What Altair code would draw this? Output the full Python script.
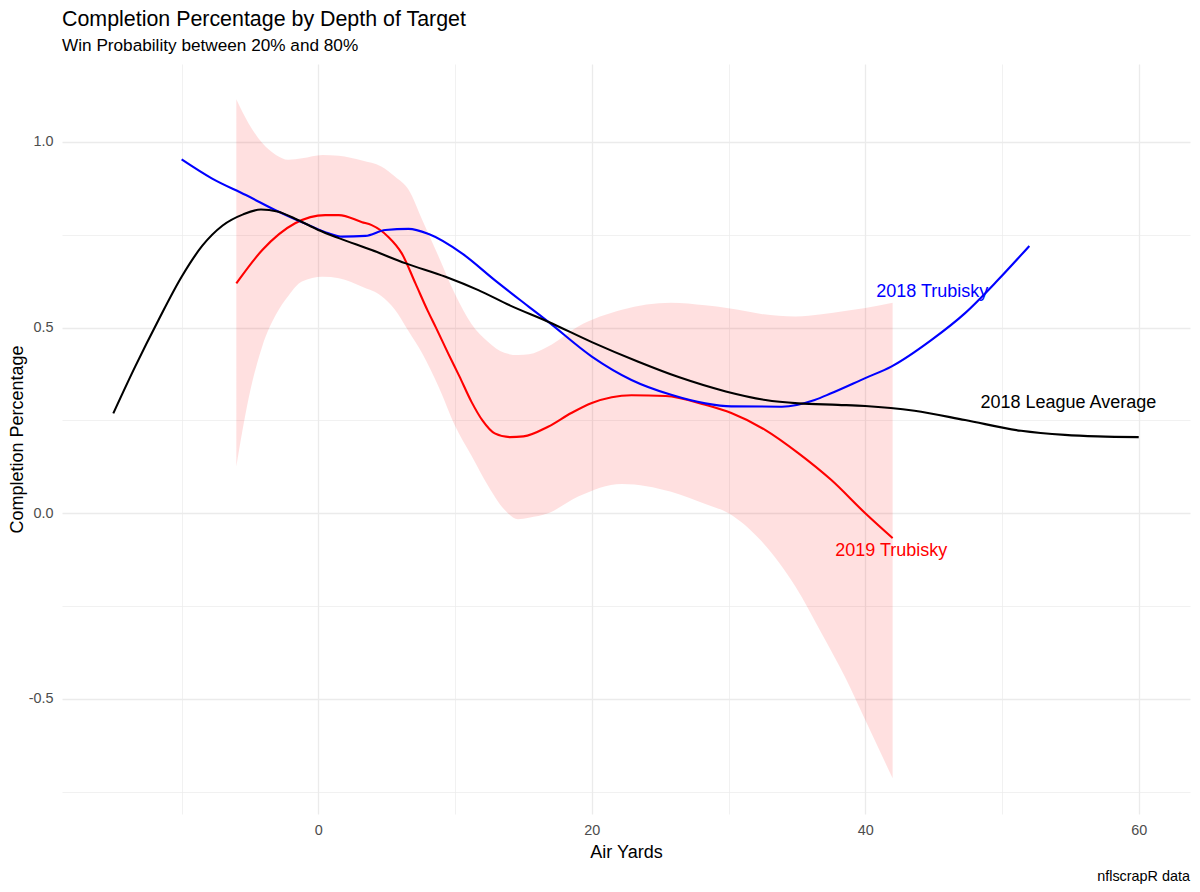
import altair as alt
import pandas as pd

FONT = "Liberation Sans"

# ---- 2018 League Average (black) ----
league_x = [-15, -13.4, -11.7, -10, -8.5, -7, -5.5, -4.2, -3, -1.5, 0, 1.5, 3.9, 6.4, 9.3,
            11.7, 14, 16.8, 20, 23.4, 26.4, 29.8, 32.7, 35.1, 38, 40, 43.6, 47.3, 51.4,
            54.6, 57, 60]
league_y = [0.269, 0.395, 0.52, 0.637, 0.72, 0.775, 0.805, 0.818, 0.813, 0.79, 0.763, 0.741,
            0.709, 0.673, 0.637, 0.601, 0.56, 0.516, 0.461, 0.408, 0.366, 0.328, 0.305,
            0.296, 0.292, 0.289, 0.276, 0.251, 0.222, 0.211, 0.207, 0.205]

# ---- 2018 Trubisky (blue) ----
t18_x = [-10, -7.8, -5.3, -2.9, -0.7, 0.75, 1.73, 3.44, 4.9, 6.6, 8.07, 10.5, 12.9, 15.4,
         16.8, 20, 22.9, 25.8, 28.3, 30.2, 33.9, 36.3, 37.5, 40, 41.9, 44.85, 47.3, 49.7, 52]
t18_y = [0.953, 0.902, 0.857, 0.812, 0.776, 0.754, 0.745, 0.747, 0.763, 0.766, 0.752, 0.70,
         0.628, 0.556, 0.516, 0.422, 0.359, 0.319, 0.296, 0.288, 0.287, 0.305, 0.323, 0.364,
         0.395, 0.467, 0.539, 0.628, 0.72]

# ---- 2019 Trubisky (red) ----
t19_x = [-6, -4.1, -1.7, 0.5, 1.5, 3.2, 3.9, 5.1, 6.1, 7.1, 8.0, 8.6, 9.5, 10.3, 11.2, 12.0,
         12.9, 14.0, 15.0, 16.8, 18.5, 20, 22.9, 25.4, 28.3, 30.2, 32.7, 35.1, 37.5, 40, 42]
t19_y = [0.619, 0.709, 0.781, 0.803, 0.803, 0.784, 0.776, 0.745, 0.70, 0.619, 0.545, 0.50,
         0.43, 0.37, 0.30, 0.25, 0.215, 0.205, 0.207, 0.233, 0.27, 0.297, 0.318, 0.316,
         0.292, 0.27, 0.224, 0.162, 0.09, 0.0, -0.067]

# ---- 2019 confidence band ----
band_x = [-6, -5.1, -4.1, -3.1, -2.2, -1.2, 0.3, 1.5, 3.2, 4.6, 5.6, 6.6, 7.6, 8.8, 10,
          11.2, 12.4, 13.6, 14.6, 15.4, 16.8, 19, 22.2, 25.8, 28.3, 30, 32.4, 34.9, 36.8,
          38.5, 40, 42]
band_hi = [1.115, 1.05, 0.997, 0.965, 0.952, 0.956, 0.965, 0.963, 0.95, 0.934, 0.907, 0.871,
           0.79, 0.691, 0.59, 0.51, 0.462, 0.432, 0.426, 0.428, 0.449, 0.503, 0.548, 0.567,
           0.56, 0.552, 0.537, 0.53, 0.536, 0.545, 0.553, 0.567]
band_lo = [0.126, 0.31, 0.45, 0.535, 0.585, 0.624, 0.637, 0.633, 0.61, 0.585, 0.548, 0.49,
           0.43, 0.34, 0.235, 0.155, 0.075, 0.01, -0.016, -0.012, 0.0, 0.045, 0.079, 0.058,
           0.025, 0.0, -0.075, -0.198, -0.323, -0.44, -0.557, -0.714]

# ---- labels ----
label_text = ["2018 Trubisky", "2018 League Average", "2019 Trubisky"]
label_x = [44.9, 54.85, 41.9]
label_y = [0.597, 0.296, -0.102]

series_names = ["2018 Trubisky", "2018 League Average", "2019 Trubisky"]
series_colors = ["#0000FF", "#000000", "#FF0000"]

x_ticks = [-10, 0, 10, 20, 30, 40, 50, 60]
y_ticks = [-0.75, -0.5, -0.25, 0.0, 0.25, 0.5, 0.75, 1.0]

lines = pd.concat([
    pd.DataFrame({"series": "2018 League Average", "x": league_x, "y": league_y}),
    pd.DataFrame({"series": "2018 Trubisky", "x": t18_x, "y": t18_y}),
    pd.DataFrame({"series": "2019 Trubisky", "x": t19_x, "y": t19_y}),
])
band = pd.DataFrame({"x": band_x, "lo": band_lo, "hi": band_hi})
labels = pd.DataFrame({"series": label_text, "x": label_x, "y": label_y})

W, H = 1128, 750

xscale = alt.Scale(domain=[-18.75, 63.75], nice=False, zero=False)
yscale = alt.Scale(domain=[-0.81, 1.21], nice=False, zero=False)
cscale = alt.Scale(domain=series_names, range=series_colors)

x_axis = alt.Axis(
    values=x_ticks, title="Air Yards",
    labelExpr="datum.value % 20 == 0 ? format(datum.value, 'd') : ''",
    domain=False, ticks=False, tickSize=0, labelPadding=9,
    labelFontSize=14.4, labelColor="#4D4D4D", labelFont=FONT,
    titleFontSize=18, titleFont=FONT, titleColor="#000000", titleFontWeight="normal",
    titleY=38, titleBaseline="middle",
    gridColor="#EBEBEB",
    gridWidth={"condition": {"test": "datum.value % 20 == 0", "value": 1.3}, "value": 0.7},
)
y_axis = alt.Axis(
    values=y_ticks, title="Completion Percentage",
    labelExpr="abs(datum.value*2 - round(datum.value*2)) < 0.001 ? replace(format(datum.value, '.1f'), '\u2212', '-') : ''",
    domain=False, ticks=False, tickSize=0, labelPadding=9,
    labelFontSize=14.4, labelColor="#4D4D4D", labelFont=FONT,
    titleFontSize=18, titleFont=FONT, titleColor="#000000", titleFontWeight="normal",
    titleX=-44.5, titleY=H / 2, titleBaseline="middle", titleAngle=270,
    gridColor="#EBEBEB",
    gridWidth={"condition": {"test": "abs(datum.value*2 - round(datum.value*2)) < 0.001", "value": 1.3}, "value": 0.7},
)

ribbon = alt.Chart(band).mark_area(color="#FF0000", opacity=0.12, interpolate="monotone").encode(
    x=alt.X("x:Q", scale=xscale, axis=x_axis),
    y=alt.Y("lo:Q", scale=yscale, axis=y_axis),
    y2="hi:Q",
)

def line_layer(name):
    return alt.Chart(lines[lines.series == name]).mark_line(
        strokeWidth=2.1, interpolate="monotone"
    ).encode(
        x=alt.X("x:Q", scale=xscale),
        y=alt.Y("y:Q", scale=yscale),
        color=alt.Color("series:N", scale=cscale, legend=None),
    )

text = alt.Chart(labels).mark_text(fontSize=18, font=FONT, align="center", baseline="middle").encode(
    x=alt.X("x:Q", scale=xscale),
    y=alt.Y("y:Q", scale=yscale),
    text="series:N",
    color=alt.Color("series:N", scale=cscale, legend=None),
)

caption = alt.Chart(pd.DataFrame({"t": ["nflscrapR data"]})).mark_text(
    fontSize=14.4, font=FONT, align="right", baseline="middle", color="#000000"
).encode(x=alt.value(W), y=alt.value(H + 62.7), text="t:N")

chart = alt.layer(
    ribbon,
    line_layer("2019 Trubisky"),
    line_layer("2018 Trubisky"),
    line_layer("2018 League Average"),
    text,
    caption,
).properties(
    width=W, height=H,
    title=alt.TitleParams(
        text="Completion Percentage by Depth of Target",
        subtitle="Win Probability between 20% and 80%",
        anchor="start", frame="group", font=FONT, fontSize=21.4, fontWeight="normal",
        color="#000000", subtitleFont=FONT, subtitleFontSize=17.2, subtitleColor="#000000",
        subtitlePadding=6, offset=10,
    ),
    autosize=alt.AutoSizeParams(type="none"),
    padding={"left": 54, "top": 56, "right": 2, "bottom": 70},
).configure(background="white").configure_view(stroke=None, strokeWidth=0)

chart.save("out.html", embed_options={"renderer": "svg", "actions": False})
